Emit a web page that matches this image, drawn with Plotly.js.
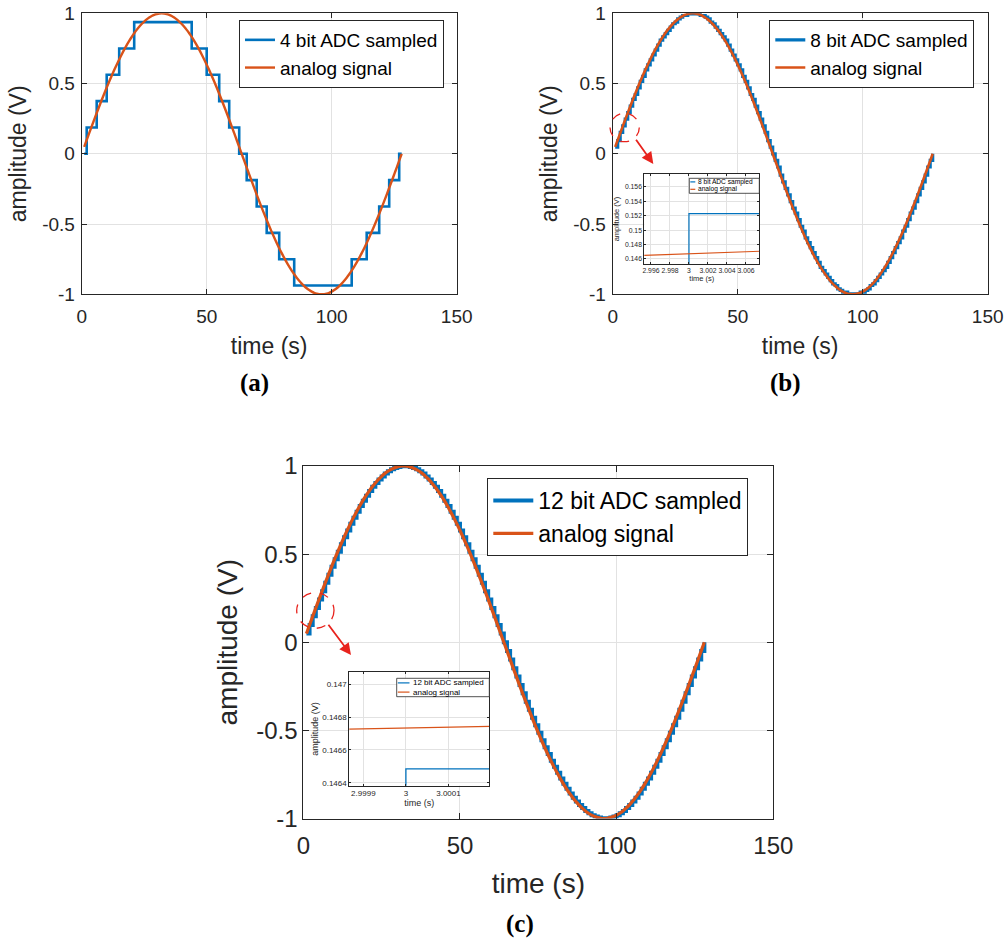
<!DOCTYPE html>
<html>
<head>
<meta charset="utf-8">
<script src="https://cdn.plot.ly/plotly-3.0.1.min.js"></script>
<style>html,body{margin:0;padding:0;background:#fff;}#chart{width:1008px;height:940px;}</style>
</head>
<body>
<div id="chart"></div>
<script>
// ---------------- data ----------------
// sample times (s)
const sampleTime = [1,2,3,4,5,6,7,8,9,10,11,12,13,14,15,16,17,18,19,20,21,22,23,24,25,26,27,28,29,30,31,32,
  33,34,35,36,37,38,39,40,41,42,43,44,45,46,47,48,49,50,51,52,53,54,55,56,57,58,59,60,61,62,63,64,
  65,66,67,68,69,70,71,72,73,74,75,76,77,78,79,80,81,82,83,84,85,86,87,88,89,90,91,92,93,94,95,96,
  97,98,99,100,101,102,103,104,105,106,107,108,109,110,111,112,113,114,115,116,117,118,119,120,121,122,123,124,125,126,127,128];

// analog signal amplitude (V) at the sample times
const analogSignal = [0.0491,0.0980,0.1467,0.1951,0.2430,0.2903,0.3369,0.3827,0.4276,0.4714,0.5141,0.5556,0.5957,0.6344,0.6716,0.7071,
  0.7410,0.7730,0.8032,0.8315,0.8577,0.8819,0.9040,0.9239,0.9415,0.9569,0.9700,0.9808,0.9892,0.9952,0.9988,1.0000,
  0.9988,0.9952,0.9892,0.9808,0.9700,0.9569,0.9415,0.9239,0.9040,0.8819,0.8577,0.8315,0.8032,0.7730,0.7410,0.7071,
  0.6716,0.6344,0.5957,0.5556,0.5141,0.4714,0.4276,0.3827,0.3369,0.2903,0.2430,0.1951,0.1467,0.0980,0.0491,0.0000,
  -0.0491,-0.0980,-0.1467,-0.1951,-0.2430,-0.2903,-0.3369,-0.3827,-0.4276,-0.4714,-0.5141,-0.5556,-0.5957,-0.6344,-0.6716,-0.7071,
  -0.7410,-0.7730,-0.8032,-0.8315,-0.8577,-0.8819,-0.9040,-0.9239,-0.9415,-0.9569,-0.9700,-0.9808,-0.9892,-0.9952,-0.9988,-1.0000,
  -0.9988,-0.9952,-0.9892,-0.9808,-0.9700,-0.9569,-0.9415,-0.9239,-0.9040,-0.8819,-0.8577,-0.8315,-0.8032,-0.7730,-0.7410,-0.7071,
  -0.6716,-0.6344,-0.5957,-0.5556,-0.5141,-0.4714,-0.4276,-0.3827,-0.3369,-0.2903,-0.2430,-0.1951,-0.1467,-0.0980,-0.0491,0.0000];

// 8 bit ADC sampled values (V)
const adc8Values = [0.0469,0.0938,0.1523,0.1992,0.2461,0.2930,0.3398,0.3867,0.4219,0.4688,0.5156,0.5508,0.5977,0.6328,0.6680,0.7031,
  0.7383,0.7734,0.8086,0.8320,0.8555,0.8789,0.9023,0.9258,0.9375,0.9609,0.9727,0.9844,0.9844,0.9961,0.9961,0.9961,
  0.9961,0.9961,0.9844,0.9844,0.9727,0.9609,0.9375,0.9258,0.9023,0.8789,0.8555,0.8320,0.8086,0.7734,0.7383,0.7031,
  0.6680,0.6328,0.5977,0.5508,0.5156,0.4688,0.4219,0.3867,0.3398,0.2930,0.2461,0.1992,0.1523,0.0938,0.0469,0.0000,
  -0.0469,-0.0938,-0.1523,-0.1992,-0.2461,-0.2930,-0.3398,-0.3867,-0.4219,-0.4688,-0.5156,-0.5508,-0.5977,-0.6328,-0.6680,-0.7031,
  -0.7383,-0.7734,-0.8086,-0.8320,-0.8555,-0.8789,-0.9023,-0.9258,-0.9375,-0.9609,-0.9727,-0.9844,-0.9844,-0.9961,-0.9961,-0.9961,
  -0.9961,-0.9961,-0.9844,-0.9844,-0.9727,-0.9609,-0.9375,-0.9258,-0.9023,-0.8789,-0.8555,-0.8320,-0.8086,-0.7734,-0.7383,-0.7031,
  -0.6680,-0.6328,-0.5977,-0.5508,-0.5156,-0.4688,-0.4219,-0.3867,-0.3398,-0.2930,-0.2461,-0.1992,-0.1523,-0.0938,-0.0469,0.0000];

// 12 bit ADC sampled values (V)
const adc12Values = [0.049,0.098,0.147,0.195,0.243,0.290,0.337,0.383,0.428,0.471,0.514,0.556,0.596,0.634,0.672,0.707,
  0.741,0.773,0.803,0.831,0.858,0.882,0.904,0.924,0.941,0.957,0.970,0.981,0.989,0.995,0.999,1.000,
  0.999,0.995,0.989,0.981,0.970,0.957,0.941,0.924,0.904,0.882,0.858,0.831,0.803,0.773,0.741,0.707,
  0.672,0.634,0.596,0.556,0.514,0.471,0.428,0.383,0.337,0.290,0.243,0.195,0.147,0.098,0.049,0.000,
  -0.049,-0.098,-0.147,-0.195,-0.243,-0.290,-0.337,-0.383,-0.428,-0.471,-0.514,-0.556,-0.596,-0.634,-0.672,-0.707,
  -0.741,-0.773,-0.803,-0.831,-0.858,-0.882,-0.904,-0.924,-0.941,-0.957,-0.970,-0.981,-0.989,-0.995,-0.999,-1.000,
  -0.999,-0.995,-0.989,-0.981,-0.970,-0.957,-0.941,-0.924,-0.904,-0.882,-0.858,-0.831,-0.803,-0.773,-0.741,-0.707,
  -0.672,-0.634,-0.596,-0.556,-0.514,-0.471,-0.428,-0.383,-0.337,-0.290,-0.243,-0.195,-0.147,-0.098,-0.049,0.000];

// 4 bit ADC: times where the level changes, and the level held from there
const adc4Time  = [1, 2, 6, 10, 15, 21, 44, 50, 55, 59, 63, 66, 70, 74, 79, 85, 108, 114, 119, 123, 127, 128];
const adc4Level = [0, 0.1875, 0.375, 0.5625, 0.75, 0.9375, 0.75, 0.5625, 0.375, 0.1875, 0, -0.1875, -0.375, -0.5625, -0.75, -0.9375, -0.75, -0.5625, -0.375, -0.1875, 0, 0];

// zoomed views around t = 3 s
const zoom8Time   = [2, 3, 4];
const zoom8Adc    = [0.0938, 0.1523, 0.1523];
const zoom8AnTime = [2.995, 3.0075];
const zoom8Analog = [0.14648, 0.14707];

const zoom12Time   = [2, 3, 4];
const zoom12Adc    = [0.09814, 0.146484, 0.146484];
const zoom12AnTime = [2.99985, 3.0002];
const zoom12Analog = [0.146726, 0.146744];

// legend labels
const names4  = ['4 bit ADC sampled', 'analog signal'];
const names8  = ['8 bit ADC sampled', 'analog signal'];
const names12 = ['12 bit ADC sampled', 'analog signal'];

// tick labels
const mainXTicks = [0, 50, 100, 150];
const mainXText  = ['0', '50', '100', '150'];
const mainYTicks = [-1, -0.5, 0, 0.5, 1];
const mainYText  = ['-1', '-0.5', '0', '0.5', '1'];
const in8XTicks  = [2.996, 2.998, 3, 3.002, 3.004, 3.006];
const in8XText   = ['2.996', '2.998', '3', '3.002', '3.004', '3.006'];
const in8YTicks  = [0.146, 0.148, 0.15, 0.152, 0.154, 0.156];
const in8YText   = ['0.146', '0.148', '0.15', '0.152', '0.154', '0.156'];
const in12XTicks = [2.9999, 3, 3.0001];
const in12XText  = ['2.9999', '3', '3.0001'];
const in12YTicks = [0.1464, 0.1466, 0.1468, 0.147];
const in12YText  = ['0.1464', '0.1466', '0.1468', '0.147'];

// ---------------- styling ----------------
const FONT = 'Liberation Sans, Arial, Helvetica, sans-serif';
const SERIF = 'Liberation Serif, Times New Roman, serif';
const BLUE = '#0072BD';
const ORANGE = '#D95319';
const AX = '#262626';
const GRID = '#e2e2e2';
const RED = '#e8231d';

function axis(o) {
  const a = {
    domain: o.domain, anchor: o.anchor, range: o.range, autorange: false,
    tickmode: 'array', tickvals: o.tv, ticktext: o.tt, tickangle: 0,
    showgrid: true, gridcolor: GRID, gridwidth: 1, zeroline: false,
    showline: true, linecolor: AX, linewidth: 1, mirror: 'ticks',
    ticks: 'inside', ticklen: o.ticklen, tickwidth: 1, tickcolor: AX,
    ticklabelstandoff: o.lblStand || 0,
    tickfont: {family: FONT, size: o.tickSize, color: AX},
    title: {text: o.title, font: {family: FONT, size: o.titleSize, color: AX}},
    automargin: false, fixedrange: true
  };
  if (o.standoff !== undefined) a.title.standoff = o.standoff;
  return a;
}

const W = 1008, H = 940;
const px = v => v / W;
const py = v => 1 - v / H;

const traces = [
  // (a)
  {x: adc4Time, y: adc4Level, type: 'scatter', mode: 'lines', line: {shape: 'hv', color: BLUE, width: 2.6},
   name: names4[0], xaxis: 'x', yaxis: 'y', legend: 'legend'},
  {x: sampleTime, y: analogSignal, type: 'scatter', mode: 'lines', line: {color: ORANGE, width: 2.4, shape: 'spline'},
   name: names4[1], xaxis: 'x', yaxis: 'y', legend: 'legend'},
  // (b)
  {x: sampleTime, y: adc8Values, type: 'scatter', mode: 'lines', line: {shape: 'hv', color: BLUE, width: 3.2},
   name: names8[0], xaxis: 'x2', yaxis: 'y2', legend: 'legend2'},
  {x: sampleTime, y: analogSignal, type: 'scatter', mode: 'lines', line: {color: ORANGE, width: 2.6, shape: 'spline'},
   name: names8[1], xaxis: 'x2', yaxis: 'y2', legend: 'legend2'},
  // (c)
  {x: sampleTime, y: adc12Values, type: 'scatter', mode: 'lines', line: {shape: 'hv', color: BLUE, width: 4},
   name: names12[0], xaxis: 'x3', yaxis: 'y3', legend: 'legend3'},
  {x: sampleTime, y: analogSignal, type: 'scatter', mode: 'lines', line: {color: ORANGE, width: 3.2, shape: 'spline'},
   name: names12[1], xaxis: 'x3', yaxis: 'y3', legend: 'legend3'},
  // inset (b)
  {x: zoom8Time, y: zoom8Adc, type: 'scatter', mode: 'lines', line: {shape: 'hv', color: BLUE, width: 1.2},
   name: names8[0], xaxis: 'x4', yaxis: 'y4', showlegend: false},
  {x: zoom8AnTime, y: zoom8Analog, type: 'scatter', mode: 'lines', line: {color: ORANGE, width: 1.2},
   name: names8[1], xaxis: 'x4', yaxis: 'y4', showlegend: false},
  // inset (c)
  {x: zoom12Time, y: zoom12Adc, type: 'scatter', mode: 'lines', line: {shape: 'hv', color: BLUE, width: 1.3},
   name: names12[0], xaxis: 'x5', yaxis: 'y5', showlegend: false},
  {x: zoom12AnTime, y: zoom12Analog, type: 'scatter', mode: 'lines', line: {color: ORANGE, width: 1.3},
   name: names12[1], xaxis: 'x5', yaxis: 'y5', showlegend: false}
];

function legendBox(x, y, size, itemwidth) {
  return {x: x, y: y, xanchor: 'left', yanchor: 'top', bgcolor: '#ffffff', bordercolor: AX, borderwidth: 1,
          font: {family: FONT, size: size, color: '#000000'}, tracegroupgap: 0, itemwidth: itemwidth,
          traceorder: 'normal'};
}

// small hand-built legends for the two zoomed insets
function insetLegend(box, rows, size, lineX0, lineX1, textX) {
  const shapes = [{type: 'rect', xref: 'paper', yref: 'paper', layer: 'above',
    x0: px(box[0]), x1: px(box[1]), y0: py(box[3]), y1: py(box[2]),
    fillcolor: '#ffffff', line: {color: AX, width: 0.8}}];
  const anns = [];
  rows.forEach(r => {
    shapes.push({type: 'line', xref: 'paper', yref: 'paper', layer: 'above',
      x0: px(lineX0), x1: px(lineX1), y0: py(r.y), y1: py(r.y), line: {color: r.color, width: 1.2}});
    anns.push({xref: 'paper', yref: 'paper', x: px(textX), y: py(r.y), xanchor: 'left', yanchor: 'middle',
      text: r.text, showarrow: false, font: {family: FONT, size: size, color: '#000000'}});
  });
  return {shapes, anns};
}
const leg8 = insetLegend([689.3, 759.3, 178.3, 193.3],
  [{y: 181.9, color: BLUE, text: names8[0]}, {y: 189.3, color: ORANGE, text: names8[1]}], 6.6, 690.3, 695.3, 695.6);
const leg12 = insetLegend([396.7, 489.3, 678.3, 696.7],
  [{y: 682.9, color: BLUE, text: names12[0]}, {y: 692.1, color: ORANGE, text: names12[1]}], 8, 397.8, 409.5, 410.5);

const layout = {
  width: W, height: H,
  margin: {l: 0, r: 0, t: 0, b: 0},
  paper_bgcolor: '#ffffff', plot_bgcolor: '#ffffff',
  showlegend: true, hovermode: false,
  xaxis:  axis({domain: [px(81.7), px(456.7)], anchor: 'y', range: [0, 150], tv: mainXTicks, tt: mainXText,
                title: 'time (s)', tickSize: 19, titleSize: 23, ticklen: 5, lblStand: 5, standoff: 11}),
  yaxis:  axis({domain: [py(294.3), py(13.3)], anchor: 'x', range: [-1, 1], tv: mainYTicks, tt: mainYText,
                title: 'amplitude (V)', tickSize: 19, titleSize: 23, ticklen: 5, lblStand: 2}),
  xaxis2: axis({domain: [px(612.7), px(987.7)], anchor: 'y2', range: [0, 150], tv: mainXTicks, tt: mainXText,
                title: 'time (s)', tickSize: 19, titleSize: 23, ticklen: 5, lblStand: 5, standoff: 11}),
  yaxis2: axis({domain: [py(294.3), py(13.3)], anchor: 'x2', range: [-1, 1], tv: mainYTicks, tt: mainYText,
                title: 'amplitude (V)', tickSize: 19, titleSize: 23, ticklen: 5, lblStand: 2}),
  xaxis3: axis({domain: [px(303.3), px(773.3)], anchor: 'y3', range: [0, 150], tv: mainXTicks, tt: mainXText,
                title: 'time (s)', tickSize: 24, titleSize: 28, ticklen: 6, lblStand: 6, standoff: 15}),
  yaxis3: axis({domain: [py(818.5), py(466)], anchor: 'x3', range: [-1, 1], tv: mainYTicks, tt: mainYText,
                title: 'amplitude (V)', tickSize: 24, titleSize: 28, ticklen: 6, lblStand: 0}),
  xaxis4: axis({domain: [px(644.3), px(759.3)], anchor: 'y4', range: [2.9953, 3.0074], tv: in8XTicks, tt: in8XText,
                title: 'time (s)', tickSize: 6.8, titleSize: 7.5, ticklen: 2, standoff: 2}),
  yaxis4: axis({domain: [py(264), py(174)], anchor: 'x4', range: [0.1453, 0.1578], tv: in8YTicks, tt: in8YText,
                title: 'amplitude (V)', tickSize: 6.8, titleSize: 7.5, ticklen: 2}),
  xaxis5: axis({domain: [px(349.3), px(489.3)], anchor: 'y5', range: [2.999867, 3.000196], tv: in12XTicks, tt: in12XText,
                title: 'time (s)', tickSize: 8, titleSize: 9, ticklen: 2, standoff: 1}),
  yaxis5: axis({domain: [py(785.7), py(672.3)], anchor: 'x5', range: [0.146382, 0.147073], tv: in12YTicks, tt: in12YText,
                title: 'amplitude (V)', tickSize: 8, titleSize: 9, ticklen: 2}),
  legend:  legendBox(px(239), py(20), 19, 30),
  legend2: legendBox(px(769.3), py(20), 19, 30),
  legend3: legendBox(px(487.3), py(478), 23, 40),
  shapes: [
    {type: 'circle', xref: 'paper', yref: 'paper', x0: px(610), x1: px(639.3), y0: py(141.7), y1: py(113.3),
     line: {color: RED, width: 1.3, dash: 'dash'}},
    {type: 'circle', xref: 'paper', yref: 'paper', x0: px(296.7), x1: px(334), y0: py(628.3), y1: py(592.7),
     line: {color: RED, width: 1.3, dash: 'dash'}}
  ].concat(leg8.shapes, leg12.shapes),
  annotations: [
    {xref: 'paper', yref: 'paper', x: px(653.3), y: py(164), text: '', showarrow: true, arrowhead: 2, arrowsize: 1.3,
     arrowwidth: 1.8, arrowcolor: RED, ax: -18.3, ay: -25.7},
    {xref: 'paper', yref: 'paper', x: px(351), y: py(655), text: '', showarrow: true, arrowhead: 2, arrowsize: 1.3,
     arrowwidth: 1.8, arrowcolor: RED, ax: -23.7, ay: -31.7},
    {xref: 'paper', yref: 'paper', x: px(254), y: py(383), xanchor: 'center', yanchor: 'middle', text: '<b>(a)</b>',
     showarrow: false, font: {family: SERIF, size: 25, color: '#000'}},
    {xref: 'paper', yref: 'paper', x: px(785), y: py(383), xanchor: 'center', yanchor: 'middle', text: '<b>(b)</b>',
     showarrow: false, font: {family: SERIF, size: 25, color: '#000'}},
    {xref: 'paper', yref: 'paper', x: px(520), y: py(924), xanchor: 'center', yanchor: 'middle', text: '<b>(c)</b>',
     showarrow: false, font: {family: SERIF, size: 25, color: '#000'}}
  ].concat(leg8.anns, leg12.anns)
};

Plotly.newPlot('chart', traces, layout, {staticPlot: true, displayModeBar: false});
</script>
</body>
</html>
